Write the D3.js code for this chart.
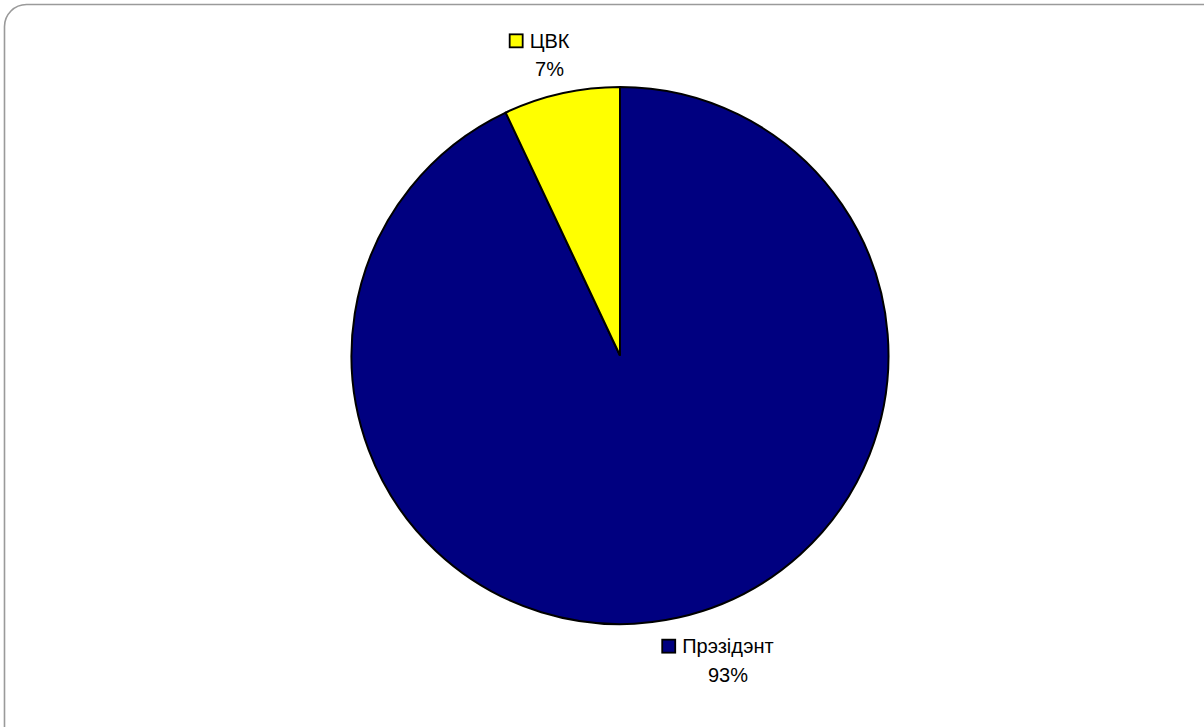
<!DOCTYPE html>
<html>
<head>
<meta charset="utf-8">
<script src="https://cdn.jsdelivr.net/npm/d3@7"></script>
<style>
  html, body { margin: 0; padding: 0; background: #ffffff; }
  svg { display: block; }
  text { font-family: "Liberation Sans", Arial, sans-serif; font-size: 20px; fill: #000; }
</style>
</head>
<body>
<svg id="chart" width="1204" height="727"></svg>
<script>
// Share of decisions by body
const categories = ["Прэзідэнт", "ЦВК"];
const values = [93, 7];
const colors = ["#000080", "#FFFF00"];

const width = 1204, height = 727;
const cx = 620, cy = 355.5, radius = 268.5;

const svg = d3.select("#chart");

// Rounded chart-area frame (runs off the right and bottom edges)
svg.append("rect")
  .attr("x", 4.5).attr("y", 4.5)
  .attr("width", 1230).attr("height", 750)
  .attr("rx", 22).attr("ry", 22)
  .attr("fill", "#ffffff")
  .attr("stroke", "#9a9a9a")
  .attr("stroke-width", 1.6);

const data = categories.map((c, i) => ({ name: c, value: values[i], color: colors[i] }));

const pie = d3.pie().sort(null).value(d => d.value);
const arc = d3.arc().innerRadius(0).outerRadius(radius);
const labelArc = d3.arc().innerRadius(radius + 36).outerRadius(radius + 36);

const arcs = pie(data);
const total = d3.sum(values);

const g = svg.append("g").attr("transform", `translate(${cx},${cy})`);

g.selectAll("path.slice")
  .data(arcs)
  .join("path")
  .attr("class", "slice")
  .attr("d", arc)
  .attr("fill", d => d.data.color)
  .attr("stroke", "#000")
  .attr("stroke-width", 2)
  .attr("stroke-linejoin", "miter");

// Label nudges from the label-arc point (centre of the first line's baseline)
const nudge = {
  "ЦВК": { dx: -4, dy: -10.5 },
  "Прэзідэнт": { dx: 41.5, dy: 0.5 }
};

const labels = g.selectAll("g.label")
  .data(arcs)
  .join("g")
  .attr("class", "label")
  .attr("transform", d => {
    const [x, y] = labelArc.centroid(d);
    const n = nudge[d.data.name];
    return `translate(${x + n.dx},${y + n.dy})`;
  });

labels.each(function(d) {
  const lg = d3.select(this);
  const t1 = lg.append("text")
    .attr("text-anchor", "middle")
    .attr("x", 0).attr("y", 0)
    .text(d.data.name);
  lg.append("text")
    .attr("text-anchor", "middle")
    .attr("x", 0).attr("y", 28.5)
    .text(Math.round(d.data.value / total * 100) + "%");
  const w = t1.node().getComputedTextLength();
  lg.append("rect")
    .attr("x", -w / 2 - 20)
    .attr("y", -13.5)
    .attr("width", 13).attr("height", 13)
    .attr("fill", d.data.color)
    .attr("stroke", "#000")
    .attr("stroke-width", 1.8);
});
</script>
</body>
</html>
